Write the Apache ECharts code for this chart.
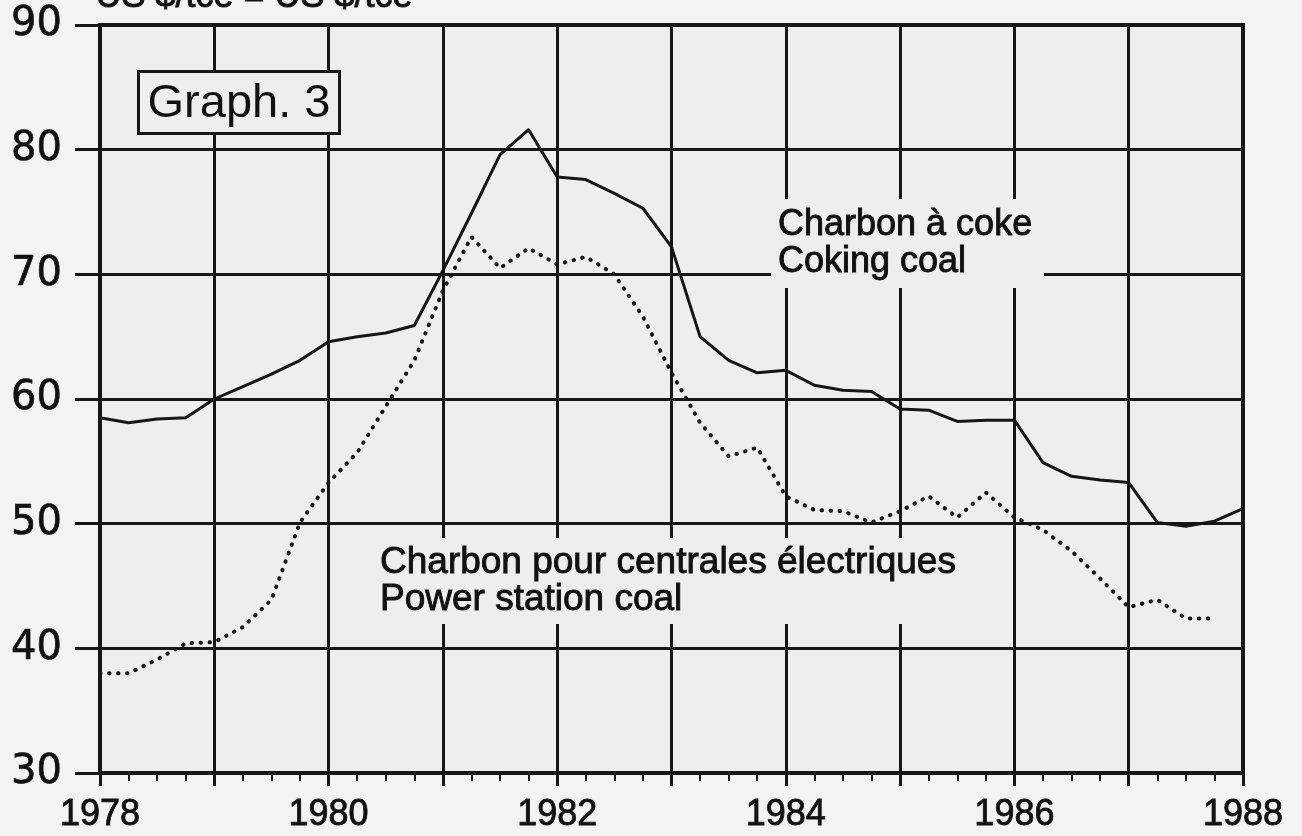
<!DOCTYPE html>
<html>
<head>
<meta charset="utf-8">
<script src="https://cdn.jsdelivr.net/npm/echarts@6/dist/echarts.min.js"></script>
<style>
html,body{margin:0;padding:0;background:#f3f3f3;}
#chart{width:1302px;height:836px;}
</style>
</head>
<body>
<div id="chart"></div>
<script>
// Quarterly data, first value = 1978 Q1 start
const startYear = 1978;
const yTicks = [30, 40, 50, 60, 70, 80, 90];
const xTickYears = [1978, 1980, 1982, 1984, 1986, 1988];
const unitLabel = 'US $/tce = US $/tce';
const cokingLabel = ['Charbon à coke', 'Coking coal'];
const powerLabel = ['Charbon pour centrales électriques', 'Power station coal'];
const chartTitle = 'Graph. 3';

// Coking coal (solid)
const coking = [
  58.5, 58.1, 58.4, 58.5,
  60.0, 61.0, 62.0, 63.1,
  64.6, 65.0, 65.3, 65.9,
  70.3, 74.9, 79.6, 81.6,
  77.8, 77.6, 76.5, 75.3,
  72.2, 65.0, 63.1, 62.1,
  62.3, 61.1, 60.7, 60.6,
  59.2, 59.1, 58.2, 58.3,
  58.3, 54.9, 53.8, 53.5,
  53.3, 50.1, 49.8, 50.2,
  51.2
];
// Power station coal (dotted)
const power = [
  38.0, 38.0, 39.1, 40.4,
  40.5, 41.7, 43.9, 50.1,
  53.3, 55.7, 59.4, 63.1,
  68.7, 73.0, 70.5, 72.1,
  70.8, 71.4, 70.0, 66.6,
  62.1, 58.1, 55.4, 56.1,
  52.2, 51.1, 51.0, 50.1,
  51.0, 52.2, 50.5, 52.5,
  50.5, 49.5, 47.8, 45.6,
  43.3, 43.9, 42.4, 42.4
];

const toPairs = arr => arr.map((v, i) => [startYear + i / 4, v]);
const ink = '#161616';
const plotBg = '#eeeeee';
const labelFont = '"Liberation Sans", sans-serif';

function labelText(x, y, text, size) {
  return { type: 'text', z: 11, x: x, y: y,
    style: { text: text, font: size + 'px ' + labelFont, fill: '#111',
             stroke: '#111', lineWidth: 0.9,
             align: 'left', verticalAlign: 'middle' } };
}

const chart = echarts.init(document.getElementById('chart'));
chart.setOption({
  animation: false,
  backgroundColor: '#f3f3f3',
  grid: {
    left: 100, right: 59, top: 25, bottom: 63,
    show: true, backgroundColor: plotBg, borderColor: ink, borderWidth: 4,
    outerBoundsMode: 'none'
  },
  xAxis: {
    type: 'value', min: xTickYears[0], max: xTickYears[xTickYears.length - 1], interval: 1,
    axisLine: { show: true, lineStyle: { color: ink, width: 4 } },
    axisTick: { show: true, inside: false, length: 13, lineStyle: { color: ink, width: 3 } },
    minorTick: { show: true, splitNumber: 4, length: 8, lineStyle: { color: ink, width: 2 } },
    splitLine: { show: true, lineStyle: { color: ink, width: 3 } },
    axisLabel: {
      margin: 24, color: '#111', fontSize: 36,
      fontFamily: '"Liberation Sans", sans-serif',
      textBorderColor: '#111', textBorderWidth: 0.8,
      formatter: v => xTickYears.includes(v) ? String(v) : ''
    }
  },
  yAxis: {
    type: 'value', min: yTicks[0], max: yTicks[yTicks.length - 1], interval: 10,
    axisLine: { show: true, lineStyle: { color: ink, width: 4 } },
    axisTick: { show: true, inside: false, length: 25, lineStyle: { color: ink, width: 3 } },
    splitLine: { show: true, lineStyle: { color: ink, width: 3 } },
    axisLabel: {
      margin: 38, color: '#111', fontSize: 40,
      fontFamily: '"DejaVu Sans", sans-serif',
      textBorderColor: '#111', textBorderWidth: 0.6
    }
  },
  series: [
    {
      name: 'Coking coal', type: 'line', data: toPairs(coking),
      symbol: 'none', z: 5,
      lineStyle: { color: ink, width: 3, join: 'round' }
    },
    {
      name: 'Power station coal', type: 'line', data: toPairs(power),
      symbol: 'none', z: 5,
      lineStyle: { color: ink, width: 4, type: [0.5, 8.5], cap: 'round' }
    }
  ],
  graphic: [
    { type: 'text', left: 95, top: -21, z: 10,
      style: { text: unitLabel, font: '36px ' + labelFont, fill: '#111', stroke: '#111', lineWidth: 0.9 } },
    { type: 'rect', z: 10, shape: { x: 138.5, y: 71.5, width: 201, height: 62 },
      style: { fill: plotBg, stroke: ink, lineWidth: 3 } },
    { type: 'text', z: 11, x: 239, y: 104,
      style: { text: chartTitle, font: '47px ' + labelFont, fill: '#111',
               align: 'center', verticalAlign: 'middle' } },
    { type: 'rect', z: 10, shape: { x: 771, y: 199, width: 273, height: 89 },
      style: { fill: plotBg } },
    labelText(778, 225, cokingLabel[0], 36),
    labelText(778, 262, cokingLabel[1], 36),
    { type: 'rect', z: 10, shape: { x: 374, y: 538, width: 597, height: 86 },
      style: { fill: plotBg } },
    labelText(380, 563, powerLabel[0], 37),
    labelText(380, 600, powerLabel[1], 37)
  ]
});
</script>
</body>
</html>
